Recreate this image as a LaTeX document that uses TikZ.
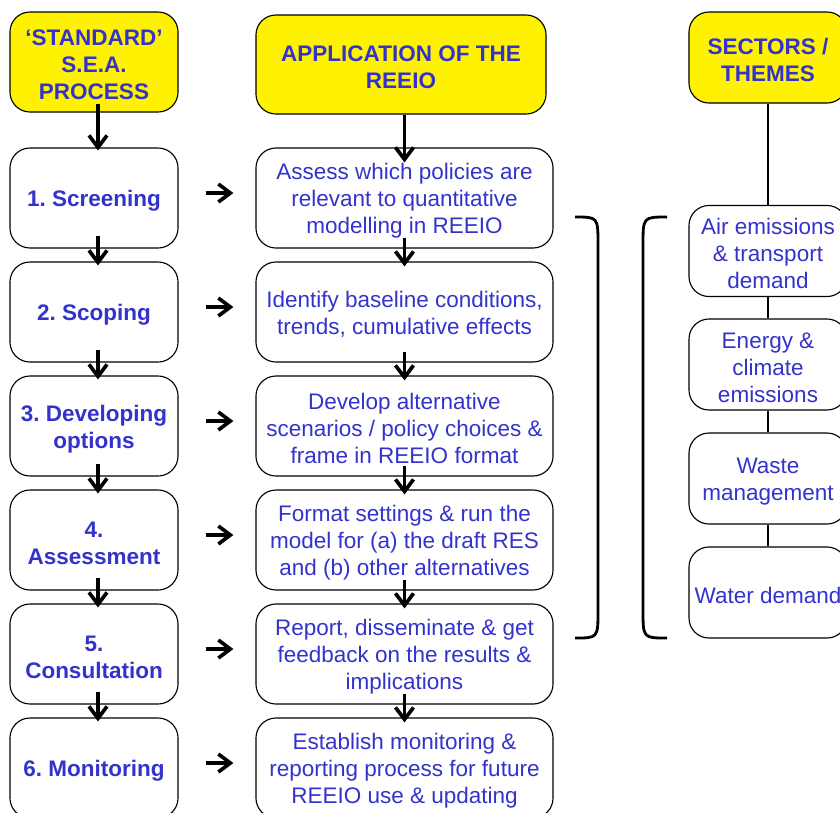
\documentclass[tikz,border=0pt]{standalone}
\usepackage{fontspec}
\setmainfont{Liberation Sans}
\usetikzlibrary{arrows.meta,calc}
\definecolor{seablue}{RGB}{51,51,204}
\newcommand{\topstrut}{\rule{0pt}{15.5pt}}
\frenchspacing

\begin{document}
\begin{tikzpicture}[x=0.025cm,y=-0.025cm,
  box/.style={draw,line width=0.8pt,rounded corners=0.5cm,align=center,
    text=seablue,inner sep=0pt,font=\fontsize{16}{19.2}\selectfont},
  headbox/.style={box,fill=yellow,font=\fontsize{16}{19.2}\selectfont\bfseries},
  stagebox/.style={box,minimum width=4.2cm,minimum height=2.5cm,
    font=\fontsize{16}{19.2}\selectfont\bfseries},
  taskbox/.style={box,minimum width=7.425cm,minimum height=2.5cm},
  themebox/.style={box,minimum width=3.95cm,minimum height=2.275cm},
  flow/.style={line width=2.6pt,-{Straight Barb[length=3mm,width=4.5mm]}}]
  \useasboundingbox (0,0) rectangle (840,812);
  \clip (0,0) rectangle (840,812);
  % Headers
  \node[headbox,minimum width=4.2cm,minimum height=2.5cm] (s0) at (94,62)
    {\topstrut‘STANDARD’\\S.E.A.\\PROCESS};
  \node[headbox,minimum width=7.25cm,minimum height=2.475cm] (t0) at (401,64.5)
    {\topstrut APPLICATION OF THE\\REEIO};
  \node[headbox,minimum width=3.95cm,minimum height=2.275cm] (h0) at (768,57.5)
    {\topstrut SECTORS /\\THEMES};
  % Left: S.E.A. stages
  \foreach \i/\y/\lab in {1/198/{1. Screening}, 2/312/{2. Scoping},
      3/426/{3. Developing\\options}, 4/540/{4.\\Assessment},
      5/654/{5.\\Consultation}, 6/768/{6. Monitoring}} {
    \node[stagebox] (s\i) at (94,\y) {\topstrut\lab};
  }
  % Middle: REEIO tasks
  \foreach \i/\y/\lab in {
      1/198/{Assess which policies are\\relevant to quantitative\\modelling in REEIO},
      2/312/{Identify baseline conditions,\\trends, cumulative effects},
      3/426/{Develop alternative\\scenarios / policy choices \&\\frame in REEIO format},
      4/540/{Format settings \& run the\\model for (a) the draft RES\\and (b) other alternatives},
      5/654/{Report, disseminate \& get\\feedback on the results \&\\implications},
      6/768/{Establish monitoring \&\\reporting process for future\\REEIO use \& updating}} {
    \node[taskbox] (t\i) at (404.5,\y) {\topstrut\lab};
  }
  % Right: sectors
  \foreach \i/\y/\lab in {1/251/{Air emissions\\\& transport\\demand},
      2/364.5/{Energy \&\\climate\\emissions}, 3/478.5/{Waste\\management},
      4/592.5/{Water demand}} {
    \node[themebox] (h\i) at (768,\y) {\topstrut\lab};
  }
  % Arrows
  \draw[flow] ($(s0.south)+(4,-9)$) -- ($(s1.north)+(4,3)$);
  \draw[flow] (t0.south -| t1.north) -- ($(t1.north)+(0,15)$);
  \foreach \i/\j in {1/2, 2/3, 3/4, 4/5, 5/6} {
    \draw[flow] ($(s\i.south)+(4,-13)$) -- ($(s\j.north)+(4,4)$);
    \draw[flow] ($(t\i.south)+(0,-11)$) -- ($(t\j.north)+(0,5)$);
  }
  \foreach \i in {1,...,6}
    \draw[flow] ($(s\i.east)+(27,-5)$) -- ($(t\i.west)+(-22,-5)$);
  % Sector links
  \draw[line width=0.8pt] (h0.south) -- (h1.north);
  \foreach \i/\j in {1/2, 2/3, 3/4}
    \draw[line width=0.8pt] (h\i.south) -- (h\j.north);
  % Brackets
  \draw[line width=2pt] (575,217) .. controls (598,217) .. (598,245)
    -- (598,610) .. controls (598,638) .. (575,638);
  \draw[line width=2pt] (667,217) .. controls (643,217) .. (643,245)
    -- (643,610) .. controls (643,638) .. (667,638);
\end{tikzpicture}
\end{document}
